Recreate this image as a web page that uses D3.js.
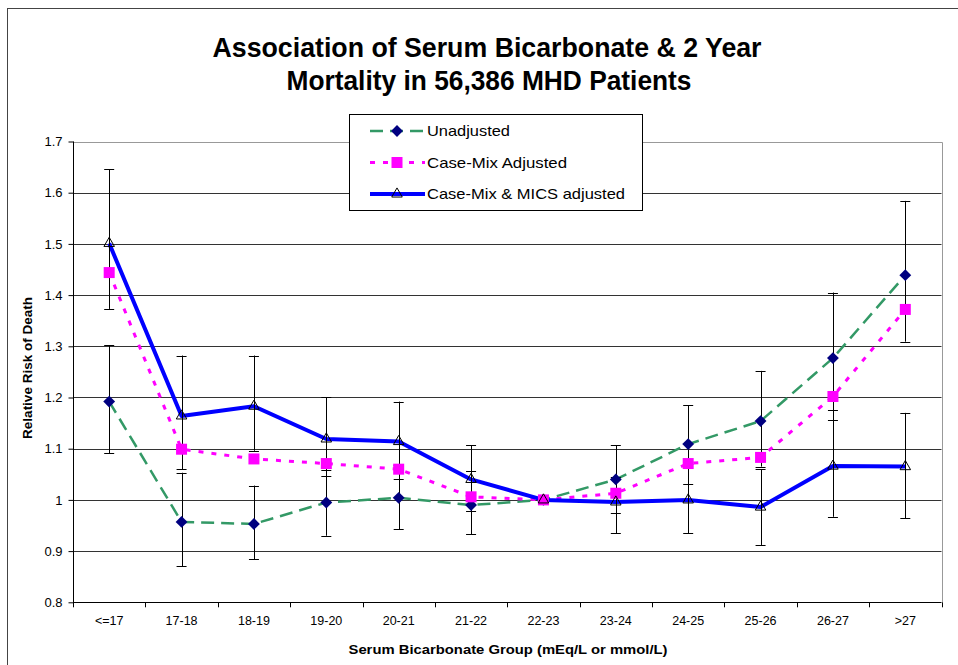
<!DOCTYPE html>
<html>
<head>
<meta charset="utf-8">
<script src="https://cdn.jsdelivr.net/npm/d3@7"></script>
<style>
  body { margin: 0; background: #fff; }
  svg { display: block; font-family: "Liberation Sans", Arial, sans-serif; }
</style>
</head>
<body>
<div id="chart"></div>
<script>
// values
const groups = ['<=17', '17-18', '18-19', '19-20', '20-21', '21-22', '22-23', '23-24', '24-25', '25-26', '26-27', '>27'];
const unadjusted = [1.192, 0.957, 0.953, 0.995, 1.004, 0.990, 1.0, 1.040, 1.109, 1.154, 1.277, 1.439];
const caseMix = [1.444, 1.099, 1.080, 1.071, 1.060, 1.006, 1.0, 1.013, 1.071, 1.083, 1.202, 1.372];
const mics = [1.501, 1.164, 1.183, 1.119, 1.114, 1.040, 1.0, 0.996, 1.0, 0.986, 1.066, 1.065];

// 95% CI, none drawn for the reference group
const unadjLow = [1.091, 0.870, 0.884, 0.930, 0.943, 0.933, null, 0.974, 1.032, 1.065, 1.156, 1.309];
const unadjHigh = [1.302, 1.053, 1.028, 1.058, 1.068, 1.057, null, 1.107, 1.185, 1.252, 1.405, 1.584];
const micsLow = [1.373, 1.060, 1.096, 1.047, 1.040, 0.979, null, 0.935, 0.935, 0.912, 0.967, 0.964];
const micsHigh = [1.646, 1.282, 1.282, 1.200, 1.192, 1.107, null, 1.045, 1.070, 1.060, 1.176, 1.170];

const yTicks = [0.8, 0.9, 1, 1.1, 1.2, 1.3, 1.4, 1.5, 1.6, 1.7];

const width = 958;
const height = 665;
const plot = {left: 73, right: 941.5, top: 141.5, bottom: 602.3};

const svg = d3.select('#chart')
    .append('svg')
        .attr('width', width)
        .attr('height', height);

// outer chart frame (cut off at right and bottom)
svg.append('rect')
    .attr('x', 7.5).attr('y', 8.5)
    .attr('width', 1000).attr('height', 700)
    .attr('fill', 'none')
    .attr('stroke', '#444');

const x = d3.scaleBand()
    .domain(groups)
    .range([plot.left, plot.right])
    .padding(0);
const cx = d => x(d) + x.bandwidth() / 2;

const y = d3.scaleLinear()
    .domain([0.8, 1.7])
    .range([plot.bottom, plot.top]);

// gridlines
svg.append('g')
    .selectAll('line')
    .data(yTicks.slice(1, -1))
    .join('line')
        .attr('x1', plot.left).attr('x2', plot.right)
        .attr('y1', d => Math.round(y(d)) + 0.5)
        .attr('y2', d => Math.round(y(d)) + 0.5)
        .attr('stroke', '#333');

// top & right border of plot area
svg.append('path')
    .attr('d', `M${plot.left},${Math.round(plot.top) + 0.5}H${Math.round(plot.right) + 0.5}V${plot.bottom}`)
    .attr('fill', 'none')
    .attr('stroke', '#999');

// axes
const yAxis = g => g
    .attr('transform', `translate(${plot.left + 0.5},0)`)
    .call(d3.axisLeft(y).tickValues(yTicks).tickSize(5).tickPadding(6).tickFormat(d3.format('')))
    .call(g => g.select('.domain').attr('d', `M0,${plot.top}V${plot.bottom}`))
    .attr('font-size', '13px')
    .attr('font-family', null)
    .attr('color', '#000');

const xAxis = g => g
    .attr('transform', `translate(0,${Math.round(plot.bottom) + 0.5})`)
    .call(d3.axisBottom(x).tickSize(0).tickPadding(14))
    .call(g => g.select('.domain').attr('d', `M${plot.left},0H${plot.right}`))
    .attr('font-size', '12.5px')
    .attr('font-family', null)
    .attr('color', '#000');

svg.append('g').call(yAxis);
svg.append('g').call(xAxis);

// category boundary ticks
svg.append('g')
    .selectAll('line')
    .data(groups.concat(['end']))
    .join('line')
        .attr('x1', (d, i) => Math.round(i < groups.length ? x(d) : plot.right) + 0.5)
        .attr('x2', (d, i) => Math.round(i < groups.length ? x(d) : plot.right) + 0.5)
        .attr('y1', plot.bottom)
        .attr('y2', plot.bottom + 5)
        .attr('stroke', '#000');

// lines
const line = vals => d3.line()
    .x((d, i) => cx(groups[i]))
    .y(d => y(d))(vals);

svg.append('path')
    .attr('d', line(unadjusted))
    .attr('fill', 'none')
    .attr('stroke', '#339966')
    .attr('stroke-width', 2.5)
    .attr('stroke-dasharray', '13,7');

svg.append('path')
    .attr('d', line(caseMix))
    .attr('fill', 'none')
    .attr('stroke', '#ff00ff')
    .attr('stroke-width', 3)
    .attr('stroke-dasharray', '5,8');

svg.append('path')
    .attr('d', line(mics))
    .attr('fill', 'none')
    .attr('stroke', '#0000ff')
    .attr('stroke-width', 4)
    .attr('stroke-linejoin', 'round');

// error bars
function errorBars(low, high) {
    const g = svg.append('g').attr('stroke', '#000').attr('stroke-width', 1);
    const data = groups.map((d, i) => ({g: d, lo: low[i], hi: high[i]})).filter(d => d.lo != null);
    g.selectAll('.v').data(data).join('line')
        .attr('x1', d => Math.round(cx(d.g)) + 0.5).attr('x2', d => Math.round(cx(d.g)) + 0.5)
        .attr('y1', d => y(d.lo)).attr('y2', d => y(d.hi));
    g.selectAll('.lo').data(data).join('line')
        .attr('x1', d => cx(d.g) - 5).attr('x2', d => cx(d.g) + 5)
        .attr('y1', d => Math.round(y(d.lo)) + 0.5).attr('y2', d => Math.round(y(d.lo)) + 0.5);
    g.selectAll('.hi').data(data).join('line')
        .attr('x1', d => cx(d.g) - 5).attr('x2', d => cx(d.g) + 5)
        .attr('y1', d => Math.round(y(d.hi)) + 0.5).attr('y2', d => Math.round(y(d.hi)) + 0.5);
}
errorBars(unadjLow, unadjHigh);
errorBars(micsLow, micsHigh);

// markers
const diamond = d3.symbol().type(d3.symbolSquare).size(70);
const square = d3.symbol().type(d3.symbolSquare).size(121);
const triangle = d3.symbol().type(d3.symbolTriangle).size(48);

svg.append('g')
    .selectAll('path')
    .data(unadjusted)
    .join('path')
        .attr('d', diamond)
        .attr('transform', (d, i) => `translate(${cx(groups[i])},${y(d)}) rotate(45)`)
        .attr('fill', '#000080');

svg.append('g')
    .selectAll('path')
    .data(caseMix)
    .join('path')
        .attr('d', square)
        .attr('transform', (d, i) => `translate(${cx(groups[i])},${y(d)})`)
        .attr('fill', '#ff00ff');

svg.append('g')
    .selectAll('path')
    .data(mics)
    .join('path')
        .attr('d', triangle)
        .attr('transform', (d, i) => `translate(${cx(groups[i])},${y(d)})`)
        .attr('fill', 'none')
        .attr('stroke', '#000')
        .attr('stroke-width', 1);

// title
const title = svg.append('g')
    .attr('font-weight', 'bold')
    .attr('font-size', '27px')
    .attr('text-anchor', 'middle');
title.append('text').attr('x', 487).attr('y', 57)
    .attr('textLength', 549).attr('lengthAdjust', 'spacingAndGlyphs')
    .text('Association of Serum Bicarbonate & 2 Year');
title.append('text').attr('x', 489).attr('y', 90)
    .attr('textLength', 405).attr('lengthAdjust', 'spacingAndGlyphs')
    .text('Mortality in 56,386 MHD Patients');

// axis titles
svg.append('text')
    .attr('transform', 'translate(32,368) rotate(-90)')
    .attr('text-anchor', 'middle')
    .attr('font-weight', 'bold')
    .attr('font-size', '13.5px')
    .text('Relative Risk of Death');

svg.append('text')
    .attr('x', 508).attr('y', 654)
    .attr('text-anchor', 'middle')
    .attr('font-weight', 'bold')
    .attr('font-size', '13px')
    .attr('textLength', 319).attr('lengthAdjust', 'spacingAndGlyphs')
    .text('Serum Bicarbonate Group (mEq/L or mmol/L)');

// legend
const legend = svg.append('g');
legend.append('rect')
    .attr('x', 349.5).attr('y', 114.5)
    .attr('width', 293).attr('height', 96)
    .attr('fill', '#fff')
    .attr('stroke', '#000');

const legendItems = [
    {name: 'Unadjusted', color: '#339966', width: 2.5, dash: '13,7', mark: diamond, rot: 45, fill: '#000080', stroke: 'none', len: 83},
    {name: 'Case-Mix Adjusted', color: '#ff00ff', width: 3, dash: '5,8', mark: square, rot: 0, fill: '#ff00ff', stroke: 'none', len: 140},
    {name: 'Case-Mix & MICS adjusted', color: '#0000ff', width: 4, dash: null, mark: triangle, rot: 0, fill: 'none', stroke: '#000', len: 198}
];

legendItems.forEach((d, i) => {
    const yy = 131 + i * 31.5;
    legend.append('line')
        .attr('x1', 370).attr('x2', 425)
        .attr('y1', yy).attr('y2', yy)
        .attr('stroke', d.color)
        .attr('stroke-width', d.width)
        .attr('stroke-dasharray', d.dash);
    legend.append('path')
        .attr('d', d.mark)
        .attr('transform', `translate(397,${yy}) rotate(${d.rot})`)
        .attr('fill', d.fill)
        .attr('stroke', d.stroke);
    legend.append('text')
        .attr('x', 427).attr('y', yy + 5)
        .attr('font-size', '15px')
        .attr('textLength', d.len).attr('lengthAdjust', 'spacingAndGlyphs')
        .text(d.name);
});
</script>
</body>
</html>
